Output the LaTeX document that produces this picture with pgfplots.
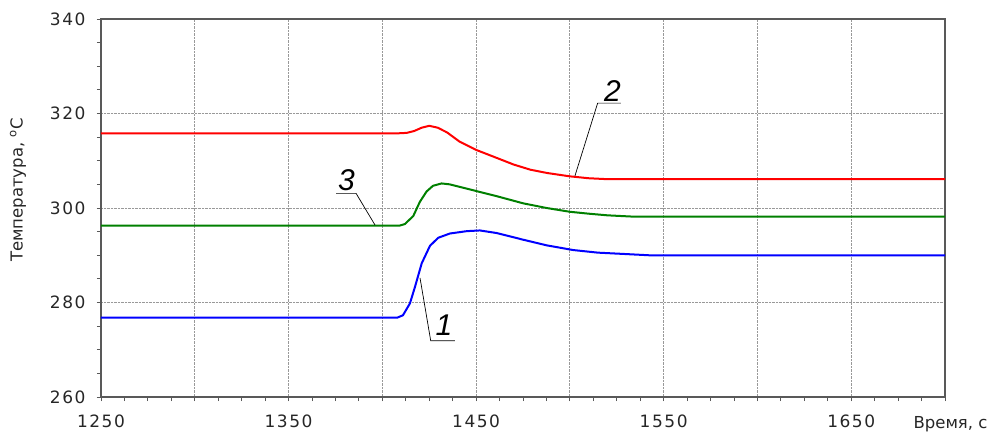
\documentclass[border=0pt]{standalone}
\usepackage{pgfplots}
\pgfplotsset{compat=1.18}
\usepackage{fontspec}
\setmainfont{DejaVu Sans}
\newfontfamily\tickfont[LetterSpace=9]{DejaVu Sans}
\newfontfamily\numfont{Liberation Sans}
\definecolor{cred}{RGB}{255,0,0}
\definecolor{cgreen}{RGB}{0,128,0}
\definecolor{cblue}{RGB}{0,0,255}
\begin{document}
\begin{tikzpicture}
\begin{axis}[
 at={(0,0)}, anchor=south west,
 scale only axis, width=844pt, height=378pt,
 xmin=1250, xmax=1700, ymin=260, ymax=340,
 xtick={1250,1350,...,1650},
 minor xtick={1250,1262.5,...,1700},
 ytick={260,280,...,340},
 minor ytick={260,265,...,340},
 extra x ticks={1300,1400,1500,1600}, extra x tick labels={},
 extra x tick style={grid=major},
 xmajorgrids, ymajorgrids,
 grid style={densely dotted, gray!80, line width=0.8pt},
 axis line style={draw=black!65, line width=1.3pt},
 tick style={draw=black!65, line width=0.8pt},
 major tick length=4pt, minor tick length=4pt,
 tick align=outside, xtick pos=bottom, ytick pos=left,
 tick label style={font=\tickfont\fontsize{17}{19}\selectfont, text=black!85},
 yticklabel style={xshift=-8pt},
 xticklabel style={yshift=-10pt},
 /pgf/number format/assume math mode=true,
 /pgf/number format/1000 sep={},
]
\addplot[cred, line width=2pt] coordinates {
(1250,315.8) (1408,315.8) (1413,315.9) (1417,316.3) (1421,317.0) (1425,317.4)
(1429.5,317.0) (1434.5,316.0) (1441,314.1) (1450,312.3) (1461,310.6) (1470,309.2)
(1479,308.1) (1488,307.4) (1500,306.7) (1510,306.3) (1520,306.1) (1700,306.1)};
\addplot[cgreen, line width=2pt] coordinates {
(1250,296.25) (1409,296.25) (1412,296.6) (1416.5,298.3) (1420,301.3) (1423.6,303.5)
(1427,304.7) (1431.6,305.2) (1436,305.0) (1440,304.6) (1450,303.6) (1461,302.5)
(1475,301.0) (1487.6,300.0) (1500,299.2) (1510,298.8) (1520,298.45) (1535,298.15) (1700,298.15)};
\addplot[cblue, line width=2pt] coordinates {
(1250,276.8) (1408,276.8) (1411,277.3) (1414.7,279.8) (1417.4,283.3) (1421,288.3)
(1425.4,292.0) (1429.8,293.7) (1436,294.6) (1445,295.1) (1452,295.25) (1461,294.7)
(1475,293.3) (1487.6,292.1) (1501.8,291.1) (1515,290.55) (1530,290.25) (1542,290.0) (1700,290.0)};
\draw[black, line width=0.7pt] (axis cs:1420.1,285.2) -- (axis cs:1425.8,271.9) -- (axis cs:1438.7,271.9);
\draw[black, line width=0.7pt] (axis cs:1502.7,306.8) -- (axis cs:1514.8,322.2) -- (axis cs:1527.2,322.2);
\draw[black, line width=0.7pt] (axis cs:1396.1,296.4) -- (axis cs:1386.0,303.1) -- (axis cs:1375.3,303.1);
\node[anchor=base, inner sep=0pt, font=\numfont\itshape\fontsize{30}{30}\selectfont] at (axis cs:1432.9,273.1) {1};
\node[anchor=base, inner sep=0pt, font=\numfont\itshape\fontsize{30}{30}\selectfont] at (axis cs:1522.7,322.6) {2};
\node[anchor=base, inner sep=0pt, font=\numfont\itshape\fontsize{30}{30}\selectfont] at (axis cs:1380.9,303.6) {3};
\end{axis}
\node[rotate=90, font=\fontsize{16.5}{19}\selectfont, text=black!85] at (-83pt,207pt) {Температура, \textsuperscript{o}C};
\node[font=\fontsize{16.5}{19}\selectfont, text=black!85] at (849.5pt,-27pt) {Время, с};
\pgfresetboundingbox
\path[use as bounding box] (-101pt,-35pt) rectangle (890pt,397pt);
\end{tikzpicture}
\end{document}
